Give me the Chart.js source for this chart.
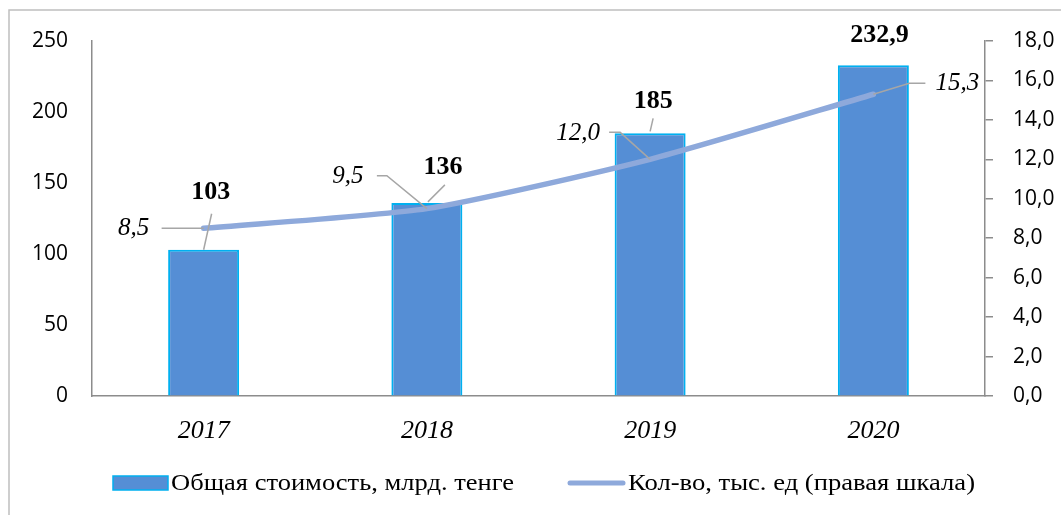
<!DOCTYPE html>
<html><head><meta charset="utf-8">
<script src="https://cdn.jsdelivr.net/npm/chart.js@4"></script>
<style>html,body{margin:0;padding:0;background:#fff}#wrap{width:1061px;height:515px}</style>
</head><body><div id="wrap"><canvas id="c" width="1061" height="515"></canvas></div>
<script>
const categories = ['2017', '2018', '2019', '2020'];
const totalValue = [103, 136, 185, 232.9];
const unitCount = [8.5, 9.5, 12.0, 15.3];
const leftTickValues = [0, 50, 100, 150, 200, 250];
const rightTickValues = [0, 2, 4, 6, 8, 10, 12, 14, 16, 18];
const seriesNames = ['Общая стоимость, млрд. тенге', 'Кол-во, тыс. ед (правая шкала)'];

const BAR_FILL = '#558ED5', BAR_EDGE = '#00B0F0', LINE_COL = '#8EA9DB', AXIS_COL = '#8C8C8C', LEADER = '#A6A6A6';
const SERIF = '"Liberation Serif", "Times New Roman", serif';
const SANS = '"Open Sans", sans-serif';

function fmtComma(v, d) { return (d === undefined ? String(v) : v.toFixed(d)).replace('.', ','); }

// label offsets relative to anchor (line point / bar top)
const lineLabelPos = [
  {dx: -70, dy: 0, leader: [[-42, 0]]},
  {dx: -79, dy: -32, leader: [[-50, -33], [-40, -33]]},
  {dx: -72, dy: -26, leader: [[-41, -27], [-30, -27]]},
  {dx: 84, dy: -11, leader: [[36, -11], [52, -11]]}
];
const barLabelPos = [
  {dx: 7, dy: -57, leader: [[8, -36], [0, 0]]},
  {dx: 16, dy: -36, leader: [[18, -18], [1, -1]]},
  {dx: 3, dy: -32, leader: [[3, -15], [0, -2]]},
  {dx: 6, dy: -30, leader: null}
];

function stretchedText(ctx, text, x, y, sx) {
  ctx.save();
  ctx.translate(x, y);
  ctx.scale(sx, 1);
  ctx.fillText(text, 0, 0);
  ctx.restore();
}

const decorPlugin = {
  id: 'decor',
  beforeDraw(chart) {
    const ctx = chart.ctx;
    ctx.save();
    ctx.strokeStyle = '#BFBFBF';
    ctx.lineWidth = 1.5;
    ctx.beginPath();
    ctx.moveTo(9, 515); ctx.lineTo(9, 10); ctx.lineTo(1061, 10);
    ctx.stroke();
    ctx.restore();
  },
  afterDatasetsDraw(chart) {
    const ctx = chart.ctx;
    const barMeta = chart.getDatasetMeta(0);
    const lineMeta = chart.getDatasetMeta(1);
    ctx.save();
    ctx.strokeStyle = LEADER;
    ctx.lineWidth = 1.5;
    lineMeta.data.forEach((pt, i) => {
      const p = lineLabelPos[i];
      if (!p.leader) return;
      ctx.beginPath();
      ctx.moveTo(pt.x, pt.y);
      const pts = i === 3 ? p.leader : p.leader.slice().reverse();
      pts.forEach(([x, y]) => ctx.lineTo(pt.x + x, pt.y + y));
      ctx.stroke();
    });
    barMeta.data.forEach((bar, i) => {
      const p = barLabelPos[i];
      if (!p.leader) return;
      ctx.beginPath();
      ctx.moveTo(bar.x + p.leader[0][0], bar.y + p.leader[0][1]);
      ctx.lineTo(bar.x + p.leader[1][0], bar.y + p.leader[1][1]);
      ctx.stroke();
    });
    ctx.fillStyle = '#000';
    ctx.textAlign = 'center';
    ctx.textBaseline = 'middle';
    ctx.font = 'italic 25px ' + SERIF;
    lineMeta.data.forEach((pt, i) => {
      const p = lineLabelPos[i];
      ctx.fillText(fmtComma(unitCount[i], 1), pt.x + p.dx, pt.y + p.dy);
    });
    ctx.font = 'bold 26px ' + SERIF;
    barMeta.data.forEach((bar, i) => {
      const p = barLabelPos[i];
      ctx.fillText(fmtComma(totalValue[i]), bar.x + p.dx, bar.y + p.dy);
    });
    // legend
    const ly = 483;
    ctx.fillStyle = BAR_FILL;
    ctx.fillRect(113, ly - 7, 55, 14);
    ctx.strokeStyle = BAR_EDGE;
    ctx.lineWidth = 1.5;
    ctx.strokeRect(113, ly - 7, 55, 14);
    ctx.strokeStyle = LINE_COL;
    ctx.lineWidth = 5;
    ctx.lineCap = 'round';
    ctx.beginPath(); ctx.moveTo(570, ly); ctx.lineTo(623, ly); ctx.stroke();
    ctx.fillStyle = '#000';
    ctx.textAlign = 'left';
    ctx.font = '23px ' + SERIF;
    const w0 = ctx.measureText(seriesNames[0]).width;
    const w1 = ctx.measureText(seriesNames[1]).width;
    stretchedText(ctx, seriesNames[0], 171, ly + 1, 343 / w0);
    stretchedText(ctx, seriesNames[1], 628, ly + 1, 347 / w1);
    ctx.restore();
  }
};

new Chart(document.getElementById('c'), {
  data: {
    labels: categories,
    datasets: [
      {type: 'bar', label: seriesNames[0], data: totalValue, yAxisID: 'y',
       backgroundColor: BAR_FILL, borderColor: BAR_EDGE, borderWidth: 2,
       categoryPercentage: 1, barPercentage: 0.318, order: 2},
      {type: 'line', label: seriesNames[1], data: unitCount, yAxisID: 'y1',
       borderColor: LINE_COL, borderWidth: 5.5, pointRadius: 0, tension: 0.2,
       borderCapStyle: 'round', fill: false, order: 1}
    ]
  },
  options: {
    responsive: false,
    animation: false,
    events: [],
    layout: {padding: {top: 41, left: 0, right: 0, bottom: 0}},
    plugins: {legend: {display: false}, tooltip: {enabled: false}},
    scales: {
      x: {
        offset: true,
        grid: {display: true, drawOnChartArea: false, drawTicks: false},
        border: {display: true, color: AXIS_COL, width: 1.5},
        ticks: {color: '#000', font: {family: SERIF, size: 26, style: 'italic'}, padding: 20},
        afterFit(s) { s.height = 119; }
      },
      y: {
        position: 'left', min: 0, max: 250,
        afterBuildTicks(s) { s.ticks = leftTickValues.map(v => ({value: v})); },
        grid: {display: true, drawOnChartArea: false, drawTicks: false},
        border: {display: true, color: AXIS_COL, width: 1.5},
        ticks: {color: '#000', font: {family: SANS, size: 21}, padding: 24},
        afterFit(s) { s.width = 92; }
      },
      y1: {
        position: 'right', min: 0, max: 18,
        afterBuildTicks(s) { s.ticks = rightTickValues.map(v => ({value: v})); },
        grid: {display: true, drawOnChartArea: false, drawTicks: true, tickLength: 8, color: AXIS_COL, lineWidth: 1.5},
        border: {display: true, color: AXIS_COL, width: 1.5},
        ticks: {color: '#000', font: {family: SANS, size: 21}, padding: 20,
                callback: v => fmtComma(v, 1)},
        afterFit(s) { s.width = 76; }
      }
    }
  },
  plugins: [decorPlugin]
});
</script></body></html>
